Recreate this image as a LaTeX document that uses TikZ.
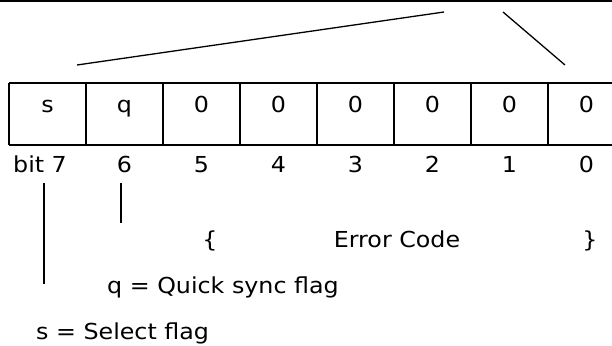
\documentclass[tikz,border=0pt]{standalone}
\usepackage{fontspec}
\setmainfont[FakeStretch=1.08]{DejaVu Sans}
\begin{document}
\begin{tikzpicture}[x=1pt,y=-1pt,
  txt/.style={font=\fontsize{22}{26}\selectfont, inner sep=0pt},
  cell/.style={txt, anchor=base},
  boxline/.style={line width=1.5pt},
  thinline/.style={line width=1.3pt}]
\useasboundingbox (0,0) rectangle (612,345);
% top rule and slanted strokes
\draw[line width=2pt] (0,1) coordinate (topL) -- (612,1) coordinate (topR);
\coordinate (d1a) at (77,65);
\coordinate (d1b) at (444,12);
\coordinate (d2a) at (503,12);
\coordinate (d2b) at (565,65);
\draw[thinline] (d1a) -- (d1b);
\draw[thinline] (d2a) -- (d2b);
% register box
\draw[boxline] (9,83) -- (612,83);
\draw[boxline] (9,145) -- (612,145);
\foreach \i in {0,...,7}{
  \draw[boxline] ({9+77*\i},83) -- ({9+77*\i},145);
}
% cell contents
\node[cell] (c7) at (47.5,112) {s};
\node[cell] (c6) at (124.5,112) {q};
\node[cell] (c5) at (201.5,112) {0};
\node[cell] (c4) at (278.5,112) {0};
\node[cell] (c3) at (355.5,112) {0};
\node[cell] (c2) at (432.5,112) {0};
\node[cell] (c1) at (509.5,112) {0};
\node[cell] (c0) at (586.5,112) {0};
% bit numbers
\node[cell] (b7) at (40,172) {bit 7};
\node[cell] (b6) at (124.5,172) {6};
\node[cell] (b5) at (201.5,172) {5};
\node[cell] (b4) at (278.5,172) {4};
\node[cell] (b3) at (355.5,172) {3};
\node[cell] (b2) at (432.5,172) {2};
\node[cell] (b1) at (509.5,172) {1};
\node[cell] (b0) at (586.5,172) {0};
% pointer lines
\coordinate (sTop) at (44,183);
\coordinate (sBot) at (44,284);
\coordinate (qTop) at (121,183);
\coordinate (qBot) at (121,223);
\draw[thinline] (sTop) -- (sBot);
\draw[thinline] (qTop) -- (qBot);
% error code row
\node[cell] (lb) at (210,247) {\{};
\node[cell] (ec) at (397,247) {Error Code};
\node[cell] (rb) at (590,247) {\}};
% legends
\node[txt, anchor=base west] (qleg) at (107,293) {q = Quick sync flag};
\node[txt, anchor=base west] (sleg) at (36,339) {s = Select flag};
\end{tikzpicture}
\end{document}
